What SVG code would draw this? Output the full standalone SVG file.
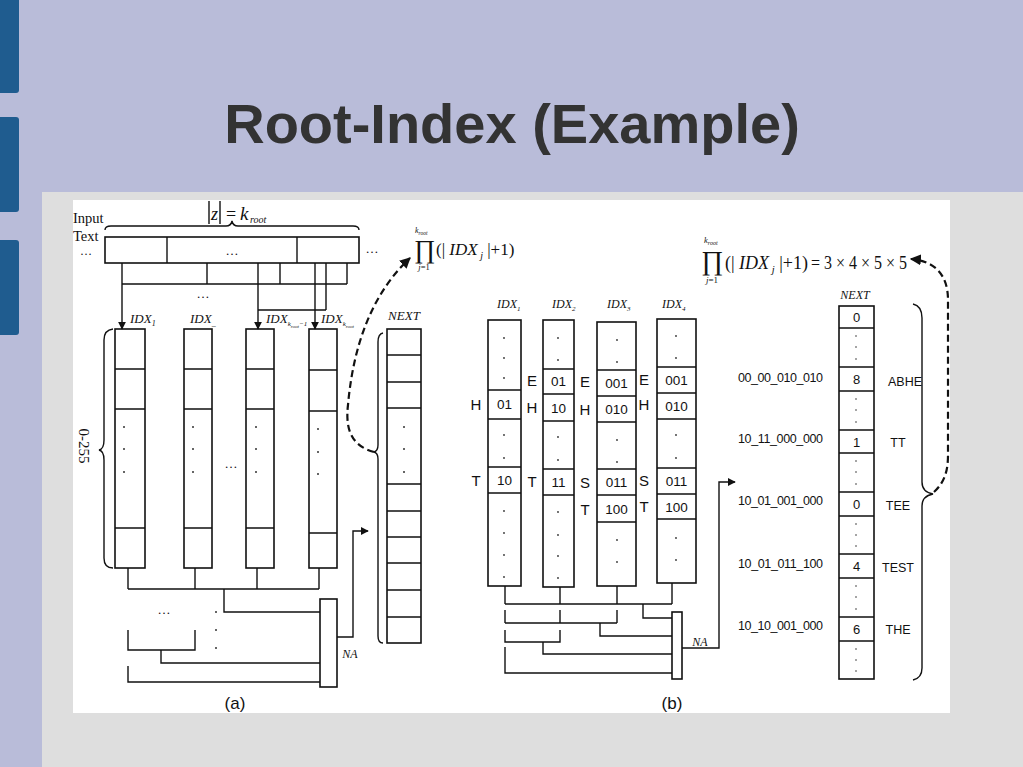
<svg xmlns="http://www.w3.org/2000/svg" width="1023" height="767" viewBox="0 0 1023 767">
<defs>
<style>
.l{fill:none;stroke:#111;stroke-width:1.4}
.b{fill:#fff;stroke:#111;stroke-width:1.6}
.d{fill:#333}
.sr{font-family:"Liberation Serif","DejaVu Serif",serif;fill:#111}
.it{font-style:italic}
.ss{font-family:"Liberation Sans",Arial,sans-serif;fill:#111}
.dash{fill:none;stroke:#111;stroke-width:2.2;stroke-dasharray:7 4}
</style>
<marker id="ah" viewBox="0 0 10 10" refX="9" refY="5" markerWidth="8" markerHeight="8" markerUnits="userSpaceOnUse" orient="auto"><path d="M0,0 L10,5 L0,10 z" fill="#111"/></marker>
<marker id="ahd" viewBox="0 0 10 10" refX="9" refY="5" markerWidth="11" markerHeight="11" markerUnits="userSpaceOnUse" orient="auto"><path d="M0,0 L10,5 L0,10 z" fill="#111"/></marker>
</defs>

<g id="background">
<rect width="1023" height="767" fill="#b9bcd9"/>
<rect x="-4" y="-4" width="23" height="97" rx="3" fill="#1f5c8f"/>
<rect x="-4" y="117" width="23" height="95" rx="3" fill="#1f5c8f"/>
<rect x="-4" y="240" width="23" height="95" rx="3" fill="#1f5c8f"/>
<rect x="42" y="192" width="981" height="575" fill="#dedede"/>
<rect x="73" y="200" width="877" height="513" fill="#fff"/>
</g>

<g id="title">
<text x="512" y="143" font-family="Liberation Sans, Arial, sans-serif" font-size="56" font-weight="bold" fill="#333" text-anchor="middle">Root-Index (Example)</text>
</g>

<!-- ============ (a) ============ -->
<g id="a-input">
<text x="73" y="223" class="sr" font-size="14.5">Input</text>
<text x="73" y="241" class="sr" font-size="14.5">Text</text>
<text x="86" y="255" class="sr" font-size="12" text-anchor="middle">…</text>
<path class="l" d="M105,230 Q105,226 111,226 L226,226 Q231,226 232,221 Q233,226 238,226 L353,226 Q359,226 359,230"/>
<line class="l" x1="209" y1="201" x2="209" y2="224"/>
<line class="l" x1="220" y1="201" x2="220" y2="224"/>
<text x="214.5" y="220" class="sr it" font-size="18" text-anchor="middle">z</text>
<text x="226" y="220" class="sr" font-size="18">=</text>
<text x="240" y="220" class="sr it" font-size="19">k</text>
<text x="250" y="223" class="sr it" font-size="10">root</text>
<rect class="b" x="105" y="237" width="254" height="26"/>
<line class="l" x1="167" y1="237" x2="167" y2="263"/>
<line class="l" x1="297" y1="237" x2="297" y2="263"/>
<text x="232" y="255" class="sr" font-size="13" text-anchor="middle">…</text>
<text x="372" y="253" class="sr" font-size="13" text-anchor="middle">…</text>
</g>

<g id="a-col1">
<text x="130" y="323" class="sr it" font-size="13">IDX<tspan font-size="8" dy="3">1</tspan></text>
<rect class="b" x="115" y="329" width="30" height="239"/>
<path class="l" d="M115,369 H145 M115,409 H145 M115,528 H145"/>
<circle class="d" cx="124" cy="427" r="1"/><circle class="d" cx="124" cy="449" r="1"/><circle class="d" cx="124" cy="472" r="1"/>
</g>
<g id="a-col2">
<text x="190" y="323" class="sr it" font-size="13">IDX<tspan font-size="8" dy="3">_</tspan></text>
<rect class="b" x="184" y="329" width="28" height="239"/>
<path class="l" d="M184,369 H212 M184,409 H212 M184,528 H212"/>
<circle class="d" cx="193" cy="427" r="1"/><circle class="d" cx="193" cy="449" r="1"/><circle class="d" cx="193" cy="472" r="1"/>
</g>
<text x="231" y="468" class="sr" font-size="13" text-anchor="middle">…</text>
<g id="a-col3">
<text x="266" y="323" class="sr it" font-size="13">IDX<tspan font-size="7" dy="3">k</tspan><tspan font-size="5" dy="1.5">root</tspan><tspan font-size="7" dy="-1.5">−1</tspan></text>
<rect class="b" x="246" y="329" width="28" height="239"/>
<path class="l" d="M246,369 H274 M246,409 H274 M246,528 H274"/>
<circle class="d" cx="256" cy="427" r="1"/><circle class="d" cx="256" cy="449" r="1"/><circle class="d" cx="256" cy="472" r="1"/>
</g>
<g id="a-col4">
<text x="321" y="323" class="sr it" font-size="13">IDX<tspan font-size="7" dy="3">k</tspan><tspan font-size="5" dy="1.5">root</tspan></text>
<rect class="b" x="309" y="329" width="28" height="239"/>
<path class="l" d="M309,370 H337 M309,411 H337 M309,533 H337"/>
<circle class="d" cx="318" cy="429" r="1"/><circle class="d" cx="318" cy="452" r="1"/><circle class="d" cx="318" cy="474" r="1"/>
</g>
<g id="a-range">
<path class="l" d="M113,329 Q104,330 104,340 L104,440 Q104,449 99,450 Q104,451 104,460 L104,558 Q104,568 113,568"/>
<text transform="translate(79,446) rotate(90)" class="sr" font-size="15" text-anchor="middle">0-255</text>
</g>
<g id="a-na">
<rect class="b" x="320" y="599" width="17" height="88"/>
<text x="350" y="658" class="sr it" font-size="12" text-anchor="middle">NA</text>
</g>
<g id="a-next">
<text x="404" y="320" class="sr it" font-size="13" text-anchor="middle">NEXT</text>
<rect class="b" x="387" y="329" width="34" height="314"/>
<path class="l" d="M387,355 H421 M387,382 H421 M387,408 H421 M387,484 H421 M387,511 H421 M387,537 H421 M387,563 H421 M387,590 H421 M387,617 H421"/>
<circle class="d" cx="404" cy="427" r="1"/><circle class="d" cx="404" cy="449" r="1"/><circle class="d" cx="404" cy="472" r="1"/>
<path class="l" d="M383,333 Q378,334 378,342 L378,445 Q378,451 374,452 Q378,453 378,459 L378,636 Q378,643 383,643"/>
</g>
<g id="a-formula">
<text x="414" y="258" class="sr" font-size="26">∏</text>
<text x="415" y="233" class="sr it" font-size="8">k<tspan font-size="5.5" dy="1.5">root</tspan></text>
<text x="424" y="270" class="sr" font-size="8.5" text-anchor="middle"><tspan font-style="italic">j</tspan>=1</text>
<text x="436" y="255" class="sr" font-size="17">(| <tspan font-style="italic">IDX</tspan><tspan font-style="italic" font-size="10" dy="4"> j</tspan><tspan dy="-4"> |+1)</tspan></text>
</g>
<text x="235" y="709" class="ss" font-size="17" text-anchor="middle">(a)</text>

<!-- ============ (b) ============ -->
<g id="b-col1">
<text x="497" y="308" class="sr it" font-size="12">IDX<tspan font-size="7" dy="3">1</tspan></text>
<rect class="b" x="488" y="320" width="33" height="266"/>
<path class="l" d="M488,390 H521 M488,419 H521 M488,467 H521 M488,493 H521"/>
<text x="504.5" y="409" class="ss" font-size="13.5" text-anchor="middle">01</text>
<text x="504.5" y="485" class="ss" font-size="13.5" text-anchor="middle">10</text>
<g class="d"><circle cx="504" cy="338" r="0.9"/><circle cx="504" cy="358" r="0.9"/><circle cx="504" cy="378" r="0.9"/><circle cx="504" cy="435" r="0.9"/><circle cx="504" cy="458" r="0.9"/><circle cx="504" cy="511" r="0.9"/><circle cx="504" cy="533" r="0.9"/><circle cx="504" cy="555" r="0.9"/><circle cx="504" cy="577" r="0.9"/></g>
<text x="476" y="410" class="ss" font-size="15" text-anchor="middle">H</text>
<text x="476" y="486" class="ss" font-size="15" text-anchor="middle">T</text>
</g>
<g id="b-col2">
<text x="552" y="308" class="sr it" font-size="12">IDX<tspan font-size="7" dy="3">2</tspan></text>
<rect class="b" x="543" y="320" width="31" height="267"/>
<path class="l" d="M543,369 H574 M543,394 H574 M543,421 H574 M543,469 H574 M543,495 H574"/>
<text x="558.5" y="386" class="ss" font-size="13.5" text-anchor="middle">01</text>
<text x="558.5" y="412.5" class="ss" font-size="13.5" text-anchor="middle">10</text>
<text x="558.5" y="487" class="ss" font-size="13.5" text-anchor="middle">11</text>
<g class="d"><circle cx="558" cy="338" r="0.9"/><circle cx="558" cy="360" r="0.9"/><circle cx="558" cy="437" r="0.9"/><circle cx="558" cy="460" r="0.9"/><circle cx="558" cy="512" r="0.9"/><circle cx="558" cy="535" r="0.9"/><circle cx="558" cy="556" r="0.9"/><circle cx="558" cy="578" r="0.9"/></g>
<text x="532" y="386" class="ss" font-size="15" text-anchor="middle">E</text>
<text x="532" y="413" class="ss" font-size="15" text-anchor="middle">H</text>
<text x="532" y="487" class="ss" font-size="15" text-anchor="middle">T</text>
</g>
<g id="b-col3">
<text x="607" y="308" class="sr it" font-size="12">IDX<tspan font-size="7" dy="3">3</tspan></text>
<rect class="b" x="597" y="322" width="39" height="264"/>
<path class="l" d="M597,370 H636 M597,396 H636 M597,422 H636 M597,469 H636 M597,495 H636 M597,522 H636"/>
<text x="616.5" y="388" class="ss" font-size="13.5" text-anchor="middle">001</text>
<text x="616.5" y="414" class="ss" font-size="13.5" text-anchor="middle">010</text>
<text x="616.5" y="487" class="ss" font-size="13.5" text-anchor="middle">011</text>
<text x="616.5" y="513.5" class="ss" font-size="13.5" text-anchor="middle">100</text>
<g class="d"><circle cx="617" cy="340" r="0.9"/><circle cx="617" cy="362" r="0.9"/><circle cx="617" cy="440" r="0.9"/><circle cx="617" cy="462" r="0.9"/><circle cx="617" cy="540" r="0.9"/><circle cx="617" cy="562" r="0.9"/></g>
<text x="585" y="387" class="ss" font-size="15" text-anchor="middle">E</text>
<text x="585" y="415" class="ss" font-size="15" text-anchor="middle">H</text>
<text x="585" y="488" class="ss" font-size="15" text-anchor="middle">S</text>
<text x="585" y="515" class="ss" font-size="15" text-anchor="middle">T</text>
</g>
<g id="b-col4">
<text x="662" y="308" class="sr it" font-size="12">IDX<tspan font-size="7" dy="3">4</tspan></text>
<rect class="b" x="657" y="319" width="39" height="264"/>
<path class="l" d="M657,367 H696 M657,393 H696 M657,419 H696 M657,468 H696 M657,494 H696 M657,519 H696"/>
<text x="676.5" y="385" class="ss" font-size="13.5" text-anchor="middle">001</text>
<text x="676.5" y="411" class="ss" font-size="13.5" text-anchor="middle">010</text>
<text x="676.5" y="486" class="ss" font-size="13.5" text-anchor="middle">011</text>
<text x="676.5" y="511.5" class="ss" font-size="13.5" text-anchor="middle">100</text>
<g class="d"><circle cx="676" cy="336" r="0.9"/><circle cx="676" cy="358" r="0.9"/><circle cx="676" cy="435" r="0.9"/><circle cx="676" cy="458" r="0.9"/><circle cx="676" cy="538" r="0.9"/><circle cx="676" cy="560" r="0.9"/></g>
<text x="644" y="385" class="ss" font-size="15" text-anchor="middle">E</text>
<text x="644" y="410" class="ss" font-size="15" text-anchor="middle">H</text>
<text x="644" y="486" class="ss" font-size="15" text-anchor="middle">S</text>
<text x="644" y="512" class="ss" font-size="15" text-anchor="middle">T</text>
</g>
<g id="b-na">
<rect class="b" x="672" y="612" width="10" height="67"/>
<text x="700" y="646" class="sr it" font-size="12" text-anchor="middle">NA</text>
</g>
<g id="b-keys" class="ss" font-size="12.5">
<text x="738" y="382" textLength="85">00_00_010_010</text>
<text x="738" y="443" textLength="85">10_11_000_000</text>
<text x="738" y="505" textLength="85">10_01_001_000</text>
<text x="738" y="568" textLength="85">10_01_011_100</text>
<text x="738" y="630" textLength="85">10_10_001_000</text>
</g>
<g id="b-next">
<text x="855" y="299" class="sr it" font-size="12" text-anchor="middle">NEXT</text>
<rect class="b" x="839" y="306" width="35" height="373"/>
<path class="l" d="M839,328 H874 M839,367 H874 M839,391 H874 M839,430 H874 M839,453 H874 M839,492 H874 M839,516 H874 M839,554 H874 M839,578 H874 M839,617 H874 M839,641 H874"/>
<g class="ss" font-size="13" text-anchor="middle">
<text x="856.5" y="322">0</text>
<text x="856.5" y="384">8</text>
<text x="856.5" y="446.5">1</text>
<text x="856.5" y="509">0</text>
<text x="856.5" y="571">4</text>
<text x="856.5" y="634">6</text>
</g>
<g class="d"><circle cx="856" cy="336" r="0.8"/><circle cx="856" cy="347" r="0.8"/><circle cx="856" cy="359" r="0.8"/><circle cx="856" cy="399" r="0.8"/><circle cx="856" cy="410" r="0.8"/><circle cx="856" cy="422" r="0.8"/><circle cx="856" cy="461" r="0.8"/><circle cx="856" cy="472" r="0.8"/><circle cx="856" cy="484" r="0.8"/><circle cx="856" cy="524" r="0.8"/><circle cx="856" cy="535" r="0.8"/><circle cx="856" cy="546" r="0.8"/><circle cx="856" cy="586" r="0.8"/><circle cx="856" cy="597" r="0.8"/><circle cx="856" cy="609" r="0.8"/><circle cx="856" cy="649" r="0.8"/><circle cx="856" cy="660" r="0.8"/><circle cx="856" cy="671" r="0.8"/></g>
<g class="ss" font-size="12.5" text-anchor="middle">
<text x="905" y="386">ABHE</text>
<text x="898" y="447">TT</text>
<text x="898" y="510">TEE</text>
<text x="898" y="572">TEST</text>
<text x="898" y="634">THE</text>
</g>
<path class="l" d="M913,304 Q922,306 922,318 L922,482 Q922,492 933,494 Q922,496 922,506 L922,668 Q922,678 913,680"/>
</g>
<g id="b-formula">
<text x="701" y="270" class="sr" font-size="27">∏</text>
<text x="704" y="243" class="sr it" font-size="8.5">k<tspan font-size="6" dy="1.5">root</tspan></text>
<text x="712" y="283" class="sr" font-size="9" text-anchor="middle"><tspan font-style="italic">j</tspan>=1</text>
<text x="725" y="269" class="sr" font-size="18">(| <tspan font-style="italic">IDX</tspan><tspan font-style="italic" font-size="10.5" dy="4"> j</tspan><tspan dy="-4"> |+1)</tspan></text>
<text x="811" y="269" class="sr" font-size="18" textLength="96" lengthAdjust="spacingAndGlyphs">= 3 × 4 × 5 × 5</text>
</g>
<text x="672" y="709" class="ss" font-size="17" text-anchor="middle">(b)</text>

<g id="connectors">
<!-- (a) top -->
<path class="l" d="M207,263 V284 M280,263 V284 M347,263 V284 M122,284 H347 M326,263 V310 M258,310 H326"/>
<line class="l" x1="122" y1="263" x2="122" y2="329" marker-end="url(#ah)"/>
<line class="l" x1="258" y1="263" x2="258" y2="329" marker-end="url(#ah)"/>
<line class="l" x1="315" y1="263" x2="315" y2="329" marker-end="url(#ah)"/>
<text x="203" y="298" class="sr" font-size="13" text-anchor="middle">…</text>
<!-- (a) bottom -->
<path class="l" d="M128,568 V589 M195,568 V589 M257,568 V589 M319,568 V589 M128,589 H319 M224,589 V612 H320"/>
<text x="164" y="614" class="sr" font-size="13" text-anchor="middle">…</text>
<circle class="d" cx="216" cy="612" r="1"/><circle class="d" cx="216" cy="630" r="1"/><circle class="d" cx="216" cy="648" r="1"/>
<path class="l" d="M128,630 V650 H195 V630 M161,650 V663 H320 M128,666 V682 H320"/>
<path class="l" d="M337,637 H353 V531 H368" marker-end="url(#ah)"/>
<path class="dash" d="M374,452 C352,446 345,430 348,405 C352,360 365,300 410,258" marker-end="url(#ahd)"/>
<!-- (b) bottom -->
<path class="l" d="M505,586 V604 M560,587 V604 M617,586 V604 M672,583 V604 M505,604 H672 M643,604 V618 H672"/>
<path class="l" d="M505,610 V623 M560,610 V623 M617,610 V623 M505,623 H617 M600,623 V636 H672"/>
<path class="l" d="M505,630 V642 H560 V630 M543,642 V654 H672"/>
<path class="l" d="M505,647 V673 H672"/>
<path class="l" d="M682,648 H719 V482 H735" marker-end="url(#ah)"/>
<path class="dash" d="M934,492 C945,482 948,470 948,455 L948,300 C948,275 935,261 911,259" marker-end="url(#ahd)"/>
</g>
</svg>
